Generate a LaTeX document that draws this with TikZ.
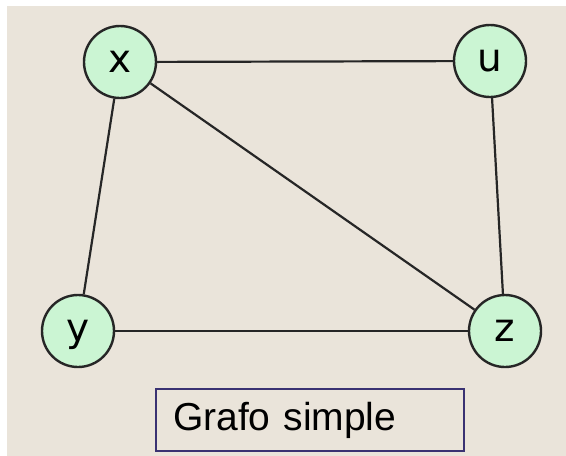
\documentclass[tikz,border=0pt]{standalone}
\usepackage{fontspec}
\setmainfont{Liberation Sans}
\newfontfamily\letra{DejaVu Sans}
\usepackage{tikz}

\definecolor{papel}{HTML}{EAE4DA}
\definecolor{verde}{HTML}{CBF5D3}
\definecolor{marco}{HTML}{3A3272}

\tikzset{
  vertice/.style={circle,draw=black!85,line width=2.4pt,fill=verde,
    minimum size=72pt,inner sep=0pt,text height=21pt,text depth=0pt,
    font=\letra\fontsize{39}{39}\selectfont},
  arista/.style={line width=2.2pt,draw=black!85},
  titulo/.style={draw=marco,line width=2.4pt,fill=papel,
    text width=274pt,inner xsep=17pt,minimum height=62pt,align=left,
    font=\fontsize{39}{39}\selectfont}
}

\begin{document}
\begin{tikzpicture}[x=1pt,y=-1pt]
  \useasboundingbox (0,0) rectangle (566,456);
  \fill[white] (0,0) rectangle (566,456);
  \fill[papel] (7,6) rectangle (566,456);

  \node[vertice] (x) at (120,62) {x};
  \node[vertice] (u) at (490,61) {u};
  \node[vertice] (y) at (78,331) {y};
  \node[vertice] (z) at (505,331) {z};

  \draw[arista] (x) -- (u);
  \draw[arista] (x) -- (y);
  \draw[arista] (x) -- (z);
  \draw[arista] (y) -- (z);
  \draw[arista] (u) -- (z);

  \node[titulo] (t) at (310,420) {Grafo simple};
\end{tikzpicture}
\end{document}
